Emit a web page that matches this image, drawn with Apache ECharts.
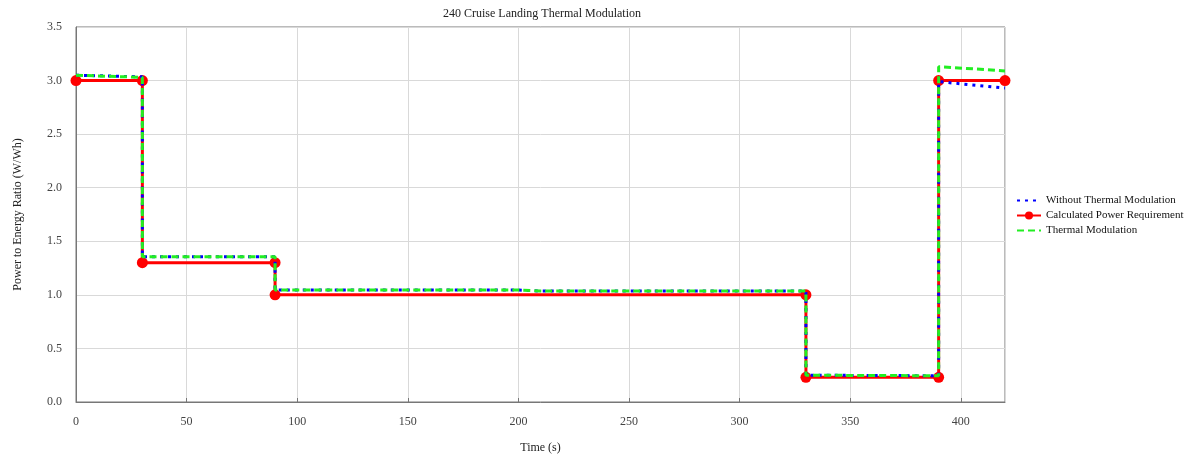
<!DOCTYPE html>
<html>
<head>
<meta charset="utf-8">
<script src="https://cdn.jsdelivr.net/npm/echarts@6/dist/echarts.min.js"></script>
<style>html,body{margin:0;padding:0;background:#fff}#c{width:1190px;height:459px}</style>
</head>
<body>
<div id="c"></div>
<script>
const title = '240 Cruise Landing Thermal Modulation';
const xName = 'Time (s)';
const yName = 'Power to Energy Ratio (W/Wh)';
const seriesNames = ['Without Thermal Modulation', 'Calculated Power Requirement', 'Thermal Modulation'];

const withoutTM = [[0,3.05],[30,3.035],[30,1.355],[90,1.355],[90,1.045],[200,1.045],[210,1.036],[330,1.035],[330,0.25],[390,0.245],[390,2.99],[420,2.93]];
const calculated = [[0,3.0],[30,3.0],[30,1.3],[90,1.3],[90,1.0],[330,1.0],[330,0.23],[390,0.23],[390,3.0],[420,3.0]];
const thermalTM = [[0,3.05],[30,3.03],[30,1.355],[90,1.355],[90,1.045],[200,1.045],[210,1.036],[330,1.035],[330,0.25],[390,0.245],[390,3.13],[420,3.09]];

const font = 'Liberation Serif, Times New Roman, serif';
const chart = echarts.init(document.getElementById('c'));
chart.setOption({
  animation: false,
  backgroundColor: '#fff',
  textStyle: {fontFamily: font},
  title: {text: title, left: 537, top: 3, textAlign: 'center',
    textStyle: {fontFamily: font, fontSize: 12, fontWeight: 'normal', color: '#222'}},
  grid: {left: 76, right: 185, top: 27, bottom: 56, show: true, borderColor: '#777', borderWidth: 1, containLabel: false},
  legend: {
    orient: 'vertical', left: 1011, top: 190, itemGap: 4, itemWidth: 24, itemHeight: 10,
    textStyle: {fontFamily: font, fontSize: 11, color: '#111'},
    data: [
      {name: seriesNames[0], itemStyle: {opacity: 0}},
      {name: seriesNames[1]},
      {name: seriesNames[2], itemStyle: {opacity: 0}}
    ]
  },
  xAxis: {
    type: 'value', min: 0, max: 420, interval: 50,
    name: xName, nameLocation: 'middle', nameGap: 40,
    nameTextStyle: {fontFamily: font, fontSize: 12, color: '#222'},
    axisLine: {lineStyle: {color: '#777'}},
    axisTick: {inside: true, length: 4, lineStyle: {color: '#777'}},
    axisLabel: {fontFamily: font, fontSize: 12, color: '#444', showMaxLabel: false, margin: 14},
    splitLine: {lineStyle: {color: '#d9d9d9'}}
  },
  yAxis: {
    type: 'value', min: 0, max: 3.5, interval: 0.5,
    name: yName, nameLocation: 'middle', nameGap: 52, nameRotate: 90,
    nameTextStyle: {fontFamily: font, fontSize: 12, color: '#222'},
    axisLine: {show: true, lineStyle: {color: '#777'}},
    axisTick: {show: false},
    axisLabel: {fontFamily: font, fontSize: 12, color: '#444', margin: 14, formatter: v => v.toFixed(1)},
    splitLine: {lineStyle: {color: '#d9d9d9'}}
  },
  series: [
    {name: seriesNames[1], type: 'line', data: calculated, z: 2,
      symbol: 'circle', symbolSize: 11, showSymbol: true,
      itemStyle: {color: '#ff0000'}, lineStyle: {color: '#ff0000', width: 3}},
    {name: seriesNames[0], type: 'line', data: withoutTM, z: 3, symbol: 'none',
      itemStyle: {color: '#0000ff'}, lineStyle: {color: '#0000ff', width: 3, type: [3, 5]}},
    {name: seriesNames[2], type: 'line', data: thermalTM, z: 4, symbol: 'none',
      itemStyle: {color: '#22ee22'}, lineStyle: {color: '#22ee22', width: 3, type: [7, 4]}}
  ]
});
</script>
</body>
</html>
